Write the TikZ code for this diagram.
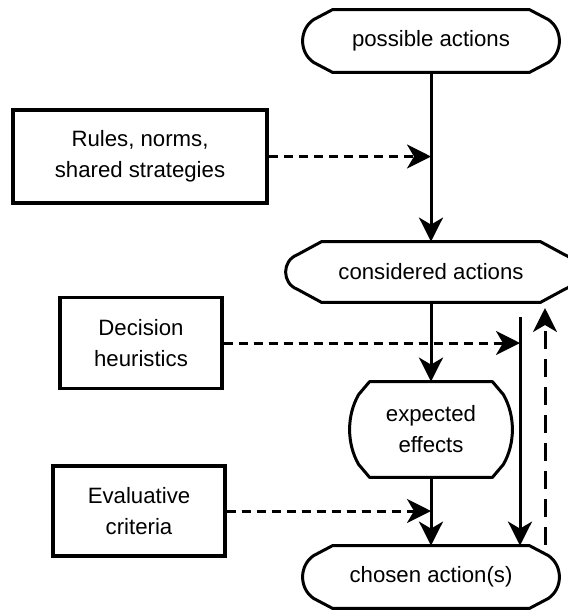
\documentclass[tikz,border=0pt]{standalone}
\usepackage{fontspec}
\setmainfont{Liberation Sans}
\usetikzlibrary{arrows.meta,calc}

% outline of an action node: #1 node, #2 corner, #3 side, #4 drop, #5 handle
\newcommand{\actshape}[5]{%
  \draw[line width=1.5pt,line join=round]
    ($(#1.north west)+(#2,0)$) -- ($(#1.north east)+(-#2,0)$)
    -- ($(#1.north east)+(-#3,#4)$)
    .. controls ($(#1.north east)+({0.333*#3},{#4+#5})$) and ($(#1.south east)+({0.333*#3},{-#4-#5})$) .. ($(#1.south east)+(-#3,-#4)$)
    -- ($(#1.south east)+(-#2,0)$) -- ($(#1.south west)+(#2,0)$)
    -- ($(#1.south west)+(#3,-#4)$)
    .. controls ($(#1.south west)+({-0.333*#3},{-#4-#5})$) and ($(#1.north west)+({-0.333*#3},{#4+#5})$) .. ($(#1.north west)+(#3,#4)$)
    -- cycle;}

\begin{document}
\begin{tikzpicture}[x=0.5pt,y=-0.5pt,>={Stealth[length=12pt,width=12pt,inset=3.5pt]},
  txt/.style={font=\fontsize{11.1}{15.5}\selectfont,align=center,inner sep=0pt},
  rulebox/.style={txt,draw,line width=1.6pt},
  flow/.style={->,line width=1.5pt},
  dsh/.style={->,line width=1.5pt,dash pattern=on 4.5pt off 3pt},
  back/.style={->,line width=1.5pt,dash pattern=on 9pt off 5pt}]
	\useasboundingbox (0,0) rectangle (568,612);
	% actions
	\node[txt,minimum width=128pt,minimum height=31pt] (possible) at (431,41) {possible actions};
	\node[txt,minimum width=145pt,minimum height=30pt] (considered) at (431,272) {considered actions};
	\node[txt,minimum width=81pt,minimum height=47.5pt] (expected) at (431,429.5) {expected\\effects};
	\node[txt,minimum width=128pt,minimum height=31pt] (chosen) at (431,577) {chosen action(s)};
	\actshape{possible}{30}{11}{10}{10}
	\actshape{considered}{36}{12}{13}{6}
	\actshape{expected}{20}{9}{13}{21}
	\actshape{chosen}{30}{11}{10}{10}
	% influences
	\node[rulebox,minimum width=127pt,minimum height=46.5pt] (rules) at (140,156.5) {Rules, norms,\\shared strategies};
	\node[rulebox,minimum width=81pt,minimum height=45.5pt] (heur) at (141,343) {Decision\\heuristics};
	\node[rulebox,minimum width=86pt,minimum height=45pt] (crit) at (139,511) {Evaluative\\criteria};
	% main flow
	\draw[flow] (possible.south) -- (considered.north);
	\draw[flow] (considered.south) -- (expected.north);
	\draw[flow] (expected.south) -- (chosen.north);
	\coordinate (short) at (520,317);
	\draw[flow] (short) -- (short |- chosen.north);
	% feedback
	\coordinate (fbfoot) at (545,545);
	\coordinate (fbhead) at (545,308);
	\draw[back] (fbfoot) -- (fbhead);
	% dashed influences
	\draw[dsh] (rules.east) -- (rules.east -| possible.south);
	\draw[dsh] (heur.east) -- (heur.east -| short);
	\draw[dsh] (crit.east) -- (crit.east -| expected.south);
\end{tikzpicture}
\end{document}
